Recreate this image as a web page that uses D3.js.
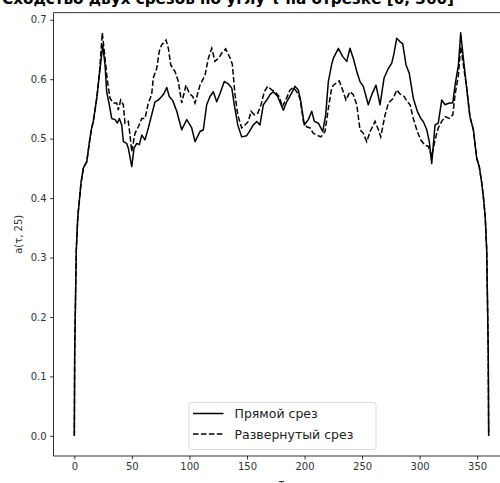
<!DOCTYPE html>
<html>
<head>
<meta charset="utf-8">
<script src="https://cdn.jsdelivr.net/npm/d3@7"></script>
<style>
  html, body { margin: 0; padding: 0; background: #fff; }
  svg { display: block; }
  text { font-family: "DejaVu Sans", sans-serif; }
</style>
</head>
<body>
<svg id="chart" width="500" height="483"></svg>
<script>
// a(τ, 25) for the straight cut: [τ, value]
const straightCut = [
  [0,0],[0.35,0.144],[1.7,0.312],[3,0.368],[5.8,0.425],[7.8,0.45],[9,0.455],[10.8,0.461],
  [13.6,0.501],[15.1,0.518],[16.5,0.529],[19.5,0.568],[21.7,0.607],[24.7,0.657],[26.7,0.624],
  [28.1,0.579],[30.4,0.557],[32.5,0.534],[35.4,0.532],[37.4,0.526],[39.1,0.534],[41.2,0.523],
  [42.6,0.495],[45.5,0.492],[46.9,0.484],[49.9,0.453],[51.9,0.484],[54.2,0.492],[56.5,0.49],
  [58.6,0.506],[61.4,0.498],[64.3,0.518],[67.2,0.54],[70.1,0.562],[73,0.565],[75.9,0.571],
  [77.9,0.576],[80.3,0.586],[82.5,0.571],[85.5,0.564],[89,0.546],[93.3,0.515],[97.7,0.532],
  [102,0.518],[104.9,0.495],[109.2,0.512],[112.1,0.515],[115,0.557],[117.9,0.571],[120.8,0.579],
  [123.7,0.562],[126.6,0.576],[130.3,0.596],[133.8,0.592],[136.8,0.585],[139,0.557],[142,0.523],
  [145.4,0.503],[149.8,0.505],[152.7,0.514],[155.5,0.523],[158.5,0.529],[161.3,0.523],
  [164.2,0.557],[167.2,0.565],[170,0.574],[172.9,0.579],[176.7,0.571],[179.6,0.557],
  [181.6,0.548],[184.5,0.562],[188.9,0.577],[191.7,0.588],[194.6,0.582],[197,0.56],
  [199.8,0.523],[203.3,0.532],[206.3,0.546],[208.5,0.529],[212,0.526],[215.8,0.512],
  [218.4,0.54],[220.7,0.596],[223.6,0.625],[225,0.635],[229.4,0.652],[233.2,0.638],
  [236.7,0.63],[239.5,0.652],[242.4,0.635],[245.4,0.613],[248.2,0.596],[251.1,0.588],
  [255.4,0.557],[258.4,0.574],[262.1,0.59],[265.6,0.557],[269.1,0.602],[272.8,0.618],
  [275.8,0.627],[277.8,0.644],[280.1,0.669],[283,0.663],[285.3,0.66],[288.2,0.624],[291,0.61],
  [294.5,0.568],[298,0.546],[301,0.534],[303.2,0.529],[306.2,0.515],[308.4,0.495],
  [310.5,0.458],[313.4,0.523],[316.2,0.526],[319.2,0.565],[322.1,0.557],[325.8,0.56],
  [328.8,0.56],[330.8,0.59],[333.7,0.624],[335.7,0.678],[338,0.635],[340.9,0.585],
  [343.7,0.537],[346.7,0.515],[349.6,0.467],[351.8,0.453],[354,0.425],[355.5,0.4],
  [357,0.368],[358.3,0.312],[359.6,0.144],[360,0]
];

// a(τ, 25) for the rotated cut: [τ, value]
const rotatedCut = [
  [0,0],[0.35,0.144],[1.7,0.312],[3,0.368],[5.8,0.425],[7.8,0.45],[9,0.455],[10.8,0.461],
  [13.6,0.501],[15.1,0.518],[16.5,0.529],[19.5,0.568],[21.7,0.607],[24.3,0.678],[26.7,0.635],
  [28.7,0.598],[31,0.568],[33.9,0.56],[36.8,0.56],[38.2,0.548],[40.3,0.565],[42.6,0.557],
  [44,0.526],[46.9,0.529],[48.4,0.506],[49.9,0.478],[52.7,0.509],[55.6,0.52],[58.6,0.534],
  [61.4,0.534],[64.3,0.56],[67.2,0.574],[68.6,0.602],[71.6,0.618],[73.8,0.647],[75.9,0.658],
  [79.7,0.666],[81.7,0.652],[83.8,0.624],[87.5,0.613],[90.4,0.596],[93.3,0.56],[95.3,0.576],
  [97,0.59],[99.9,0.576],[102.9,0.571],[104.9,0.56],[109.2,0.59],[113.6,0.607],[116.4,0.635],
  [119.4,0.652],[122.2,0.63],[125.7,0.636],[128.1,0.644],[131.5,0.651],[135.3,0.636],
  [137.3,0.625],[139.6,0.574],[142,0.54],[145.4,0.518],[148.3,0.523],[151.2,0.529],
  [153.5,0.546],[156.4,0.54],[159.4,0.543],[162.2,0.557],[165.1,0.579],[168,0.588],
  [171.5,0.582],[174.4,0.579],[177.9,0.571],[180.7,0.554],[183.7,0.565],[187.4,0.582],
  [190.3,0.586],[193.2,0.579],[196.1,0.568],[199,0.529],[201.9,0.52],[204.8,0.518],
  [207.6,0.509],[210.6,0.506],[214.3,0.503],[217.8,0.512],[220.7,0.551],[223.6,0.585],
  [225,0.59],[230.2,0.597],[233.1,0.582],[236,0.565],[239.5,0.579],[242.4,0.574],
  [245.4,0.557],[248.2,0.515],[251.1,0.509],[254,0.495],[257,0.512],[261.3,0.529],
  [264.2,0.515],[266.2,0.503],[270,0.54],[272.9,0.56],[277.2,0.568],[280.1,0.582],
  [283,0.575],[286.5,0.571],[289.4,0.562],[291.7,0.557],[294.5,0.534],[298,0.512],
  [300.9,0.498],[304.7,0.489],[307.6,0.487],[310.5,0.47],[313.4,0.498],[316.2,0.518],
  [319.2,0.529],[322.1,0.537],[325.8,0.534],[328.8,0.54],[330.8,0.574],[333.7,0.607],
  [335.7,0.655],[338,0.624],[340.9,0.585],[343.7,0.537],[346.7,0.515],[349.6,0.467],
  [351.8,0.453],[354,0.425],[355.5,0.4],[357,0.368],[358.3,0.312],[359.6,0.144],[360,0]
];

const xTicks = [0, 50, 100, 150, 200, 250, 300, 350];
const yTicks = [0.0, 0.1, 0.2, 0.3, 0.4, 0.5, 0.6, 0.7];
const seriesNames = ["Прямой срез", "Развернутый срез"];
const titleText = "Сходство двух срезов по углу τ на отрезке [0, 360]";
const xLabel = "τ";
const yLabel = "a(τ, 25)";

const svg = d3.select("#chart");
const plot = { left: 53.6, right: 509.4, top: 12.7, bottom: 456 };

const x = d3.scaleLinear().domain([-18, 378]).range([plot.left, plot.right]);
const y = d3.scaleLinear().domain([-0.0339, 0.7119]).range([plot.bottom, plot.top]);

// title (sits above the axes, mostly outside the page)
svg.append("text")
  .attr("x", 2).attr("y", 4)
  .attr("text-anchor", "start")
  .attr("font-size", 15).attr("font-weight", "bold")
  .attr("textLength", 452).attr("lengthAdjust", "spacingAndGlyphs")
  .attr("fill", "#000")
  .text(titleText);

// axes
const xAxis = d3.axisBottom(x).tickValues(xTicks).tickSize(3.5).tickPadding(3.5)
  .tickFormat(d3.format("d"));
const yAxis = d3.axisLeft(y).tickValues(yTicks).tickSize(3.5).tickPadding(3.5)
  .tickFormat(d3.format(".1f"));

const gx = svg.append("g").attr("transform", `translate(0,${plot.bottom})`).call(xAxis);
const gy = svg.append("g").attr("transform", `translate(${plot.left},0)`).call(yAxis);
[gx, gy].forEach(g => {
  g.select(".domain").remove();
  g.selectAll(".tick line").attr("stroke", "#000").attr("stroke-width", 0.8);
  g.selectAll(".tick text").attr("font-size", 10).attr("fill", "#333")
    .attr("font-family", "DejaVu Sans, sans-serif");
});

// frame
svg.append("rect")
  .attr("x", plot.left).attr("y", plot.top)
  .attr("width", plot.right - plot.left).attr("height", plot.bottom - plot.top)
  .attr("fill", "none").attr("stroke", "#000").attr("stroke-width", 0.8);

// axis labels
svg.append("text")
  .attr("transform", `translate(18.5,${(plot.top + plot.bottom) / 2}) rotate(-90)`)
  .attr("text-anchor", "middle").attr("dominant-baseline", "middle")
  .attr("font-size", 10).attr("fill", "#333")
  .text(yLabel);
svg.append("text")
  .attr("x", (plot.left + plot.right) / 2).attr("y", 487)
  .attr("text-anchor", "middle")
  .attr("font-size", 10).attr("fill", "#333")
  .text(xLabel);

// curves
const line = d3.line().x(d => x(d[0])).y(d => y(d[1]));
svg.append("clipPath").attr("id", "plotClip").append("rect")
  .attr("x", plot.left).attr("y", plot.top)
  .attr("width", plot.right - plot.left).attr("height", plot.bottom - plot.top);

const curves = svg.append("g").attr("clip-path", "url(#plotClip)");
curves.append("path").datum(straightCut)
  .attr("d", line).attr("fill", "none")
  .attr("stroke", "#000").attr("stroke-width", 1.5).attr("stroke-linejoin", "round");
curves.append("path").datum(rotatedCut)
  .attr("d", line).attr("fill", "none")
  .attr("stroke", "#000").attr("stroke-width", 1.5)
  .attr("stroke-dasharray", "5.55,2.4");

// legend
const lg = svg.append("g");
lg.append("rect")
  .attr("x", 189).attr("y", 402.5).attr("width", 187).attr("height", 47)
  .attr("rx", 2.5).attr("fill", "#fff").attr("fill-opacity", 0.8)
  .attr("stroke", "#d0d0d0").attr("stroke-width", 0.8);
const rows = [
  { name: seriesNames[0], dash: null, y: 413.5 },
  { name: seriesNames[1], dash: "5.55,2.4", y: 434 }
];
rows.forEach(r => {
  lg.append("line")
    .attr("x1", 193).attr("x2", 223.5).attr("y1", r.y).attr("y2", r.y)
    .attr("stroke", "#000").attr("stroke-width", 1.5)
    .attr("stroke-dasharray", r.dash);
  lg.append("text")
    .attr("x", 234.5).attr("y", r.y)
    .attr("dominant-baseline", "central")
    .attr("font-size", 12.5).attr("fill", "#222")
    .text(r.name);
});
</script>
</body>
</html>
